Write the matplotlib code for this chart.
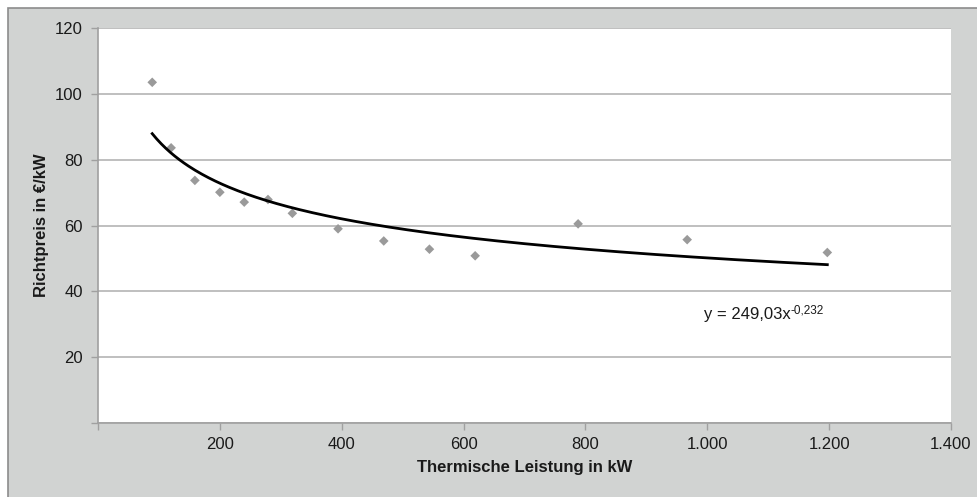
import matplotlib

matplotlib.use("Agg")
import matplotlib.pyplot as plt
import numpy as np
from matplotlib.patches import Rectangle
from matplotlib.ticker import FuncFormatter

plt.rcParams["font.family"] = ["Liberation Sans", "DejaVu Sans"]

# ---------------------------------------------------------------------------
# Data
# ---------------------------------------------------------------------------
leistung_kw = [89, 120, 159, 200, 240, 279, 319, 394, 469, 544, 619, 788, 967, 1197]
richtpreis = [103.5, 83.6, 73.7, 70.1, 67.1, 67.9, 63.7, 59.0, 55.3, 52.8, 50.8,
              60.5, 55.7, 51.8]

# power trendline y = a * x^b as printed in the chart
trend_a = 249.03
trend_b = -0.232

x_ticks = [0, 200, 400, 600, 800, 1000, 1200, 1400]
y_ticks = [0, 20, 40, 60, 80, 100, 120]

BG = "#d1d3d2"
GRID = "#b4b4b4"
POINT = "#9a9a9a"
TXT = "#1a1a1a"


def de_thousands(v, _pos):
    if v == 0:
        return ""
    return f"{int(v):,}".replace(",", ".")


fig = plt.figure(figsize=(9.78, 4.97), dpi=100, facecolor="white")
fig.patches.append(
    Rectangle((8 / 978, -0.05), 1.0, 1 - 8 / 497 + 0.05, transform=fig.transFigure,
              facecolor=BG, edgecolor="#8c8c8c", linewidth=1.2, zorder=-1)
)

ax = fig.add_axes([98 / 978, 1 - 423 / 497, (951 - 98) / 978, (423 - 28) / 497])
ax.set_facecolor("white")

ax.scatter(leistung_kw, richtpreis, marker="D", s=24, color=POINT,
           edgecolors="none", zorder=3)

xs = np.linspace(min(leistung_kw), max(leistung_kw), 300)
ax.plot(xs, trend_a * xs ** trend_b, color="black", linewidth=2, zorder=4)

ax.set_xlim(0, 1400)
ax.set_ylim(0, 120)
ax.set_xticks(x_ticks)
ax.set_yticks(y_ticks)
ax.xaxis.set_major_formatter(FuncFormatter(de_thousands))
ax.yaxis.set_major_formatter(FuncFormatter(lambda v, p: "" if v == 0 else f"{int(v)}"))
ax.yaxis.grid(True, color=GRID, linewidth=1.2)
ax.set_axisbelow(True)

for side in ("top", "right"):
    ax.spines[side].set_visible(False)
for side in ("left", "bottom"):
    ax.spines[side].set_color("#a0a0a0")
    ax.spines[side].set_linewidth(1.2)

ax.tick_params(axis="both", colors="#a0a0a0", labelcolor=TXT,
               labelsize=12, length=5, width=1)
ax.tick_params(axis="x", pad=5)
ax.tick_params(axis="y", pad=6)

ax.set_xlabel("Thermische Leistung in kW", fontsize=12, fontweight="bold",
              color=TXT, labelpad=6)
ax.set_ylabel("Richtpreis in €/kW", fontsize=12, fontweight="bold",
              color=TXT, labelpad=4)

# trendline equation with a small superscript exponent
eq = ax.text(995, 33.0, "y = 249,03x", fontsize=12, color=TXT,
             ha="left", va="center")
ax.annotate("-0,232", xy=(1, 1), xycoords=eq, xytext=(0, 2),
            textcoords="offset points", fontsize=8.5, color=TXT,
            ha="left", va="top")

fig.savefig("out.png", dpi=100, facecolor=fig.get_facecolor())
